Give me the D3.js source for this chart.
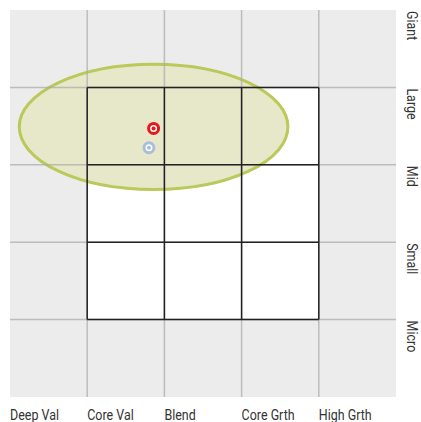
<!DOCTYPE html>
<html>
<head>
<meta charset="utf-8">
<script src="https://cdn.jsdelivr.net/npm/d3@7"></script>
<style>
  body { margin: 0; background: #fff; }
  text { font-family: "Roboto", sans-serif; fill: #333; }
</style>
</head>
<body>
<svg id="chart" width="421" height="422"></svg>
<script>
// columns (style) and rows (size)
const styles = ['Deep Val', 'Core Val', 'Blend', 'Core Grth', 'High Grth']
const sizes = ['Giant', 'Large', 'Mid', 'Small', 'Micro']

// style box cells highlighted (col range, row range)
const boxCols = [1, 4]
const boxRows = [1, 4]

// ownership zone: centre and radii, in grid units
const zone = { cx: 1.86, cy: 1.51, rx: 1.74, ry: 0.81 }

// centroids: benchmark and fund
const points = [
  { name: 'Benchmark', x: 1.80, y: 1.78, color: '#a9bedb' },
  { name: 'Fund', x: 1.86, y: 1.53, color: '#e8151b' }
]

const svg = d3.select('#chart')
const x = d3.scaleLinear().domain([0, 5]).range([10, 396])
const y = d3.scaleLinear().domain([0, 5]).range([10, 397])

// background
svg.append('rect')
  .attr('x', x(0)).attr('y', y(0))
  .attr('width', x(5) - x(0)).attr('height', y(5) - y(0))
  .attr('fill', '#ececec')

// style box fill
svg.append('rect')
  .attr('x', x(boxCols[0])).attr('y', y(boxRows[0]))
  .attr('width', x(boxCols[1]) - x(boxCols[0])).attr('height', y(boxRows[1]) - y(boxRows[0]))
  .attr('fill', '#fff')

// ownership zone
svg.append('ellipse')
  .attr('cx', x(zone.cx)).attr('cy', y(zone.cy))
  .attr('rx', x(zone.rx) - x(0)).attr('ry', y(zone.ry) - y(0))
  .attr('fill', '#e6e8c9')
  .attr('stroke', '#bac95a').attr('stroke-width', 3)

// grey grid
d3.range(1, 5).forEach(i => {
  svg.append('line').attr('x1', x(i)).attr('x2', x(i)).attr('y1', y(0)).attr('y2', y(5))
    .attr('stroke', '#a8a8a8').attr('stroke-width', 1.5).attr('stroke-opacity', 0.7)
  svg.append('line').attr('y1', y(i)).attr('y2', y(i)).attr('x1', x(0)).attr('x2', x(5))
    .attr('stroke', '#a8a8a8').attr('stroke-width', 1.5).attr('stroke-opacity', 0.7)
})

// style box lines
d3.range(boxCols[0], boxCols[1] + 1).forEach(i => {
  svg.append('line').attr('x1', x(i)).attr('x2', x(i)).attr('y1', y(boxRows[0])).attr('y2', y(boxRows[1]))
    .attr('stroke', '#222').attr('stroke-width', 1.5)
})
d3.range(boxRows[0], boxRows[1] + 1).forEach(i => {
  svg.append('line').attr('y1', y(i)).attr('y2', y(i)).attr('x1', x(boxCols[0])).attr('x2', x(boxCols[1]))
    .attr('stroke', '#222').attr('stroke-width', 1.5)
})

// centroids
const pt = svg.selectAll('g.pt').data(points).enter().append('g')
  .attr('class', 'pt')
  .attr('transform', d => `translate(${x(d.x)},${y(d.y)})`)
pt.append('circle').attr('r', 5).attr('fill', '#fff')
  .attr('stroke', d => d.color).attr('stroke-width', 3)
pt.append('circle').attr('r', 2).attr('fill', d => d.color)

// bottom labels (condensed look)
svg.selectAll('text.col').data(styles).enter().append('text')
  .attr('class', 'col')
  .attr('transform', (d, i) => `translate(${x(i)},420) scale(0.86,1)`)
  .attr('font-size', 14.5)
  .text(d => d)

// right labels
svg.selectAll('text.row').data(sizes).enter().append('text')
  .attr('class', 'row')
  .attr('transform', (d, i) => `translate(407,${y(i) + 1}) rotate(90) scale(0.86,1)`)
  .attr('font-size', 14.5)
  .text(d => d)
</script>
</body>
</html>
